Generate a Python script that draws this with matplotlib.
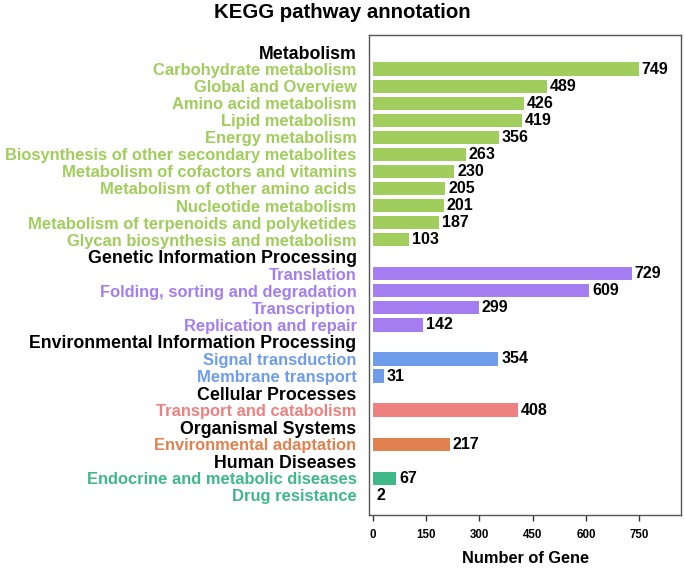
import matplotlib
matplotlib.use('Agg')
import matplotlib.pyplot as plt

plt.rcParams['font.family'] = ['Liberation Sans', 'DejaVu Sans']

# KEGG level-1 groups, their level-2 pathways and gene counts
groups = ["Metabolism", "Genetic Information Processing",
          "Environmental Information Processing", "Cellular Processes",
          "Organismal Systems", "Human Diseases"]
group_colors = ["#a0cd5b", "#a47ef0", "#6f9ceb", "#ef8080", "#e0814f", "#3fb98a"]

metabolism = ["Carbohydrate metabolism", "Global and Overview", "Amino acid metabolism",
              "Lipid metabolism", "Energy metabolism",
              "Biosynthesis of other secondary metabolites",
              "Metabolism of cofactors and vitamins", "Metabolism of other amino acids",
              "Nucleotide metabolism", "Metabolism of terpenoids and polyketides",
              "Glycan biosynthesis and metabolism"]
metabolism_counts = [749, 489, 426, 419, 356, 263, 230, 205, 201, 187, 103]

genetic = ["Translation", "Folding, sorting and degradation", "Transcription",
           "Replication and repair"]
genetic_counts = [729, 609, 299, 142]

environmental = ["Signal transduction", "Membrane transport"]
environmental_counts = [354, 31]

cellular = ["Transport and catabolism"]
cellular_counts = [408]

organismal = ["Environmental adaptation"]
organismal_counts = [217]

human = ["Endocrine and metabolic diseases", "Drug resistance"]
human_counts = [67, 2]

pathways = [metabolism, genetic, environmental, cellular, organismal, human]
counts = [metabolism_counts, genetic_counts, environmental_counts,
          cellular_counts, organismal_counts, human_counts]

fig = plt.figure(figsize=(6.85, 5.68), dpi=100)
ax = fig.add_axes([369 / 685, 1 - 515 / 568, 312 / 685, 480 / 568])

labels, label_colors, is_header = [], [], []
row = 0
for g, name in enumerate(groups):
    labels.append(name)
    label_colors.append("black")
    is_header.append(True)
    row += 1
    for p, val in zip(pathways[g], counts[g]):
        ax.barh(row, val, height=0.78, color=group_colors[g], edgecolor="none")
        ax.text(val + 8, row, str(val), va="center", ha="left",
                fontsize=11.5, fontweight="bold", color="black")
        labels.append(p)
        label_colors.append(group_colors[g])
        is_header.append(False)
        row += 1

ax.set_yticks(range(len(labels)))
ax.set_yticklabels(labels, fontsize=11.9, fontweight="bold")
for tl, c, h in zip(ax.get_yticklabels(), label_colors, is_header):
    tl.set_color(c)
    if h:
        tl.set_fontsize(12.8)
ax.tick_params(axis="y", length=0, pad=9)

ax.set_ylim(len(labels) - 1 + 1.15, -1)
ax.set_xlim(-10, 867)
ax.set_xticks([0, 150, 300, 450, 600, 750])
ax.tick_params(axis="x", labelsize=8.3, length=4, width=1, pad=6, color="#333333")
for tl in ax.get_xticklabels():
    tl.set_fontweight("bold")
for s in ax.spines.values():
    s.set_color("#555555")
    s.set_linewidth(1)

ax.set_xlabel("Number of Gene", fontsize=11.8, fontweight="bold", labelpad=7)
fig.text(342 / 685, 1 - 12 / 568, "KEGG pathway annotation", ha="center", va="center",
         fontsize=14.7, fontweight="bold")

fig.savefig("out.png", dpi=100)
